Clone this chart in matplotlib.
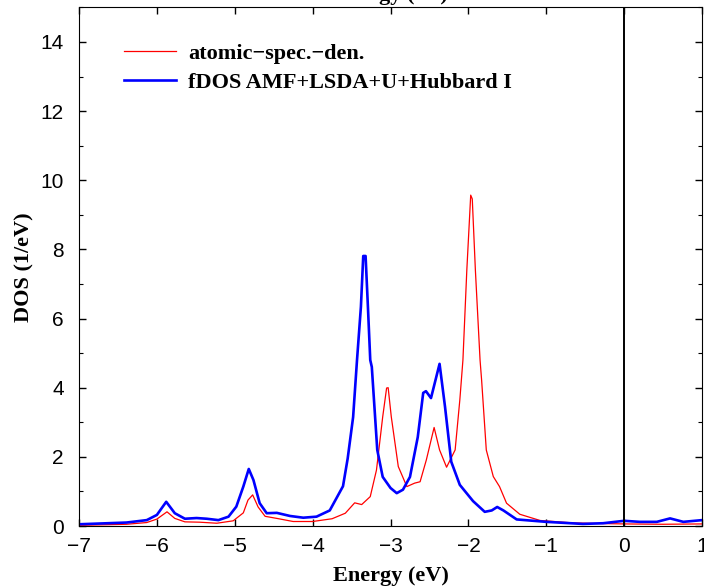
import numpy as np
import matplotlib
matplotlib.use("Agg")
import matplotlib.pyplot as plt
from matplotlib.ticker import MultipleLocator

# values
e_atomic = [-7.0, -6.39, -6.13, -6.0, -5.87, -5.77, -5.64, -5.45, -5.23, -5.02,
            -4.89, -4.83, -4.77, -4.70, -4.61, -4.46, -4.25, -4.0, -3.75, -3.58,
            -3.46, -3.37, -3.26, -3.18, -3.10, -3.05, -3.03, -2.99, -2.90, -2.79,
            -2.69, -2.62, -2.54, -2.44, -2.37, -2.28, -2.17, -2.11, -2.07, -2.02,
            -1.97, -1.95, -1.91, -1.85, -1.83, -1.77, -1.68, -1.60, -1.51, -1.34,
            -1.08, -0.66, -0.27, 0.0, 0.5, 1.0]
dos_atomic = [0.02, 0.05, 0.10, 0.20, 0.41, 0.22, 0.12, 0.11, 0.08, 0.15,
              0.38, 0.75, 0.90, 0.55, 0.28, 0.22, 0.13, 0.13, 0.21, 0.37,
              0.67, 0.62, 0.85, 1.62, 3.16, 3.99, 4.0, 3.16, 1.72, 1.14,
              1.24, 1.28, 1.91, 2.85, 2.2, 1.70, 2.2, 3.64, 4.8, 7.4,
              9.57, 9.46, 7.4, 4.8, 4.22, 2.2, 1.43, 1.14, 0.66, 0.34,
              0.16, 0.09, 0.07, 0.06, 0.05, 0.06]

e_fdos = [-7.0, -6.39, -6.13, -6.0, -5.88, -5.77, -5.64, -5.49, -5.36, -5.21,
          -5.08, -4.98, -4.89, -4.82, -4.76, -4.68, -4.59, -4.46, -4.29, -4.12,
          -3.95, -3.78, -3.61, -3.55, -3.48, -3.43, -3.38, -3.35, -3.32, -3.29,
          -3.26, -3.24, -3.17, -3.10, -3.0, -2.92, -2.84, -2.75, -2.65, -2.58,
          -2.545, -2.48, -2.37, -2.30, -2.22, -2.11, -1.94, -1.79, -1.70, -1.63,
          -1.55, -1.38, -1.0, -0.53, -0.27, 0.0, 0.2, 0.42, 0.59, 0.76, 1.0]
dos_fdos = [0.05, 0.10, 0.17, 0.32, 0.70, 0.37, 0.21, 0.23, 0.21, 0.17,
            0.27, 0.56, 1.14, 1.65, 1.33, 0.66, 0.37, 0.38, 0.29, 0.24,
            0.27, 0.45, 1.15, 1.95, 3.15, 4.8, 6.34, 7.81, 7.81, 6.34,
            4.8, 4.6, 2.2, 1.42, 1.1, 0.95, 1.05, 1.42, 2.57, 3.85,
            3.9, 3.7, 4.69, 3.45, 1.86, 1.19, 0.72, 0.41, 0.45, 0.55,
            0.45, 0.19, 0.12, 0.06, 0.08, 0.15, 0.12, 0.12, 0.22, 0.12, 0.17]

x_ticks = [-7, -6, -5, -4, -3, -2, -1, 0, 1]
y_ticks = [0, 2, 4, 6, 8, 10, 12, 14]

serif_bold = dict(family="Liberation Serif", weight="bold")

fig = plt.figure(figsize=(7.04, 5.87), dpi=100)
ax = fig.add_axes([79 / 704, 1 - 526 / 587, (702 - 79) / 704, (526 - 7.4) / 587])

ax.plot(e_atomic, dos_atomic, color="#ff0000", linewidth=0.9, label="atomic\u2212spec.\u2212den.")
ax.plot(e_fdos, dos_fdos, color="#0000ff", linewidth=1.9, label="fDOS AMF+LSDA+U+Hubbard I")
ax.axvline(0, color="black", linewidth=1.4)

ax.set_xlim(-7, 1)
ax.set_ylim(0, 15)
ax.set_xticks(x_ticks)
ax.set_yticks(y_ticks)
ax.yaxis.set_minor_locator(MultipleLocator(1))
ax.tick_params(which="major", direction="in", top=True, right=True, length=5, width=1,
               labelsize=15)
ax.tick_params(which="minor", direction="in", right=True, length=3, width=0.8)
ax.tick_params(axis="y", pad=11)
ax.tick_params(axis="x", pad=8)
for lab in ax.get_xticklabels() + ax.get_yticklabels():
    lab.set_family("Liberation Sans")

ax.set_xlabel("Energy (eV)", fontsize=16, labelpad=7, **serif_bold)
ax.set_ylabel("DOS (1/eV)", fontsize=16, labelpad=4, **serif_bold)
fig.text(390 / 704, 1.0, "Energy (eV)", ha="center", va="baseline",
         fontsize=16, **serif_bold)

leg = ax.legend(loc="upper left", bbox_to_anchor=(0.073, 0.93), frameon=False,
                handlelength=2.3, handletextpad=0.55, labelspacing=0.38,
                borderaxespad=0, borderpad=0,
                prop=dict(family="Liberation Serif", weight="bold", size=16))

fig.savefig("out.png", dpi=100)
